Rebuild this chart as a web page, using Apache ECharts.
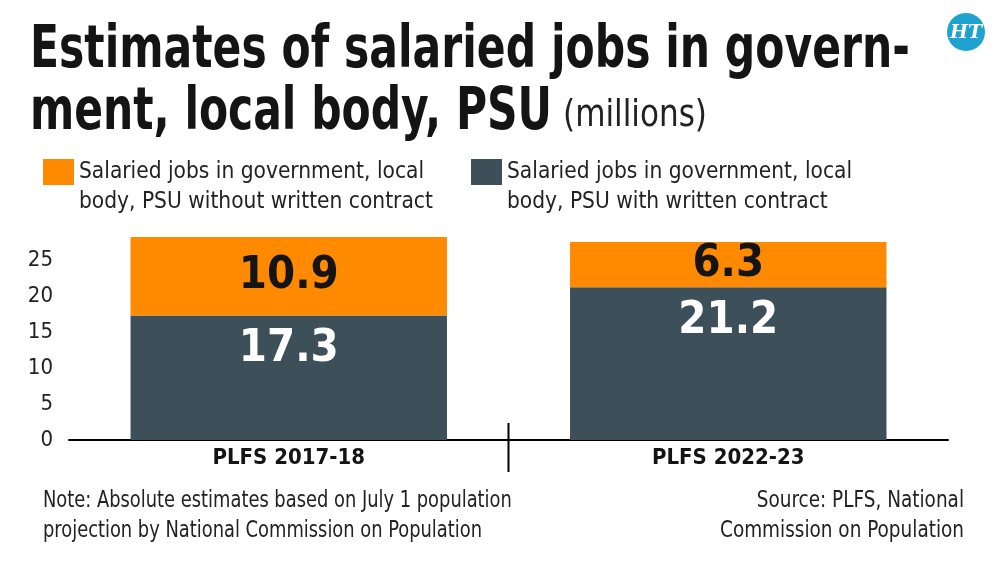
<!DOCTYPE html>
<html>
<head>
<meta charset="utf-8">
<script src="https://cdn.jsdelivr.net/npm/echarts@6/dist/echarts.min.js"></script>
<style>html,body{margin:0;padding:0;background:#fff;}#c{width:1000px;height:561px;}</style>
</head>
<body>
<div id="c"></div>
<script>
// ---- data ----
const categories = ['PLFS 2017-18', 'PLFS 2022-23'];
const withContract = [17.3, 21.2];
const withoutContract = [10.9, 6.3];
const seriesNames = [
  'Salaried jobs in government, local body, PSU without written contract',
  'Salaried jobs in government, local body, PSU with written contract'
];
const titleLine1 = 'Estimates of salaried jobs in govern-';
const titleLine2 = 'ment, local body, PSU';
const titleUnit = '(millions)';
const noteLines = ['Note: Absolute estimates based on July 1 population', 'projection by National Commission on Population'];
const sourceLines = ['Source: PLFS, National', 'Commission on Population'];

// ---- style ----
const FONT = '"DejaVu Sans Condensed", "Liberation Sans Narrow", "Liberation Sans", sans-serif';
const ORANGE = '#ff8a00';
const SLATE = '#3d4f59';
const INK = '#141414';

const cv = document.createElement('canvas').getContext('2d');
function measure(text, font) { cv.font = font; return cv.measureText(text).width; }
function fitScale(text, font, target) { return target / measure(text, font); }
// font size so that text, squeezed by scaleX, spans target width
function sizeFor(text, weight, target, sx) {
  const w = measure(text, weight + ' 100px ' + FONT);
  return 100 * target / (w * sx);
}

const tFont1 = 'bold 58px ' + FONT;
const tFontU = 'normal 38px ' + FONT;
const NSX = 0.86;
const nSize = sizeFor(noteLines[0], 'normal', 469, NSX);
const nFont = 'normal ' + nSize.toFixed(2) + 'px ' + FONT;
const sScale = fitScale(sourceLines[1], nFont, 244);

const chart = echarts.init(document.getElementById('c'), null, { renderer: 'canvas' });

function legendCfg(i, left) {
  return {
    left: left, top: 122,
    data: [seriesNames[i]],
    icon: 'rect', itemWidth: 31, itemHeight: 26,
    selectedMode: false,
    formatter: n => '\n' + n.replace(', local ', ', local\n'),
    textStyle: { fontFamily: FONT, fontSize: 22.5, lineHeight: 30, color: '#222' }
  };
}

const option = {
  backgroundColor: '#fff',
  animation: false,
  legend: [legendCfg(0, 38), legendCfg(1, 466)],
  grid: { left: 69, right: 52, top: 224, bottom: 121, containLabel: false },
  xAxis: {
    type: 'category', data: categories,
    axisLine: { lineStyle: { color: '#000', width: 2 } },
    axisTick: { show: false },
    axisLabel: { fontFamily: FONT, fontWeight: 'bold', fontSize: 22, color: INK, margin: 7 }
  },
  yAxis: {
    type: 'value', min: 0, max: 30, interval: 5,
    axisLine: { show: false }, axisTick: { show: false }, splitLine: { show: false },
    axisLabel: { fontFamily: FONT, fontSize: 22, color: '#222', margin: 16,
      formatter: v => (v >= 30 ? '' : String(v)) }
  },
  series: [
    {
      name: seriesNames[1], type: 'bar', stack: 'a', data: withContract, barWidth: '72%',
      itemStyle: { color: SLATE },
      label: { show: true, position: 'insideTop', distance: 11, color: '#fff',
        fontFamily: FONT, fontWeight: 'bold', fontSize: 45 }
    },
    {
      name: seriesNames[0], type: 'bar', stack: 'a', data: withoutContract, barWidth: '72%',
      itemStyle: { color: ORANGE },
      label: { show: true, position: 'inside', color: INK,
        fontFamily: FONT, fontWeight: 'bold', fontSize: 45 }
    }
  ],
  graphic: [
    { type: 'text', x: 30, y: 52, scaleX: fitScale(titleLine1, tFont1, 880),
      style: { text: titleLine1, font: tFont1, fill: INK, verticalAlign: 'middle' } },
    { type: 'text', x: 30, y: 114, scaleX: fitScale(titleLine2, tFont1, 522),
      style: { text: titleLine2, font: tFont1, fill: INK, verticalAlign: 'middle' } },
    { type: 'text', x: 563, y: 116, scaleX: fitScale(titleUnit, tFontU, 144),
      style: { text: titleUnit, font: tFontU, fill: '#222', verticalAlign: 'middle' } },
    { type: 'text', x: 43, y: 501, scaleX: NSX,
      style: { text: noteLines[0], font: nFont, fill: '#222', verticalAlign: 'middle' } },
    { type: 'text', x: 43, y: 531, scaleX: NSX,
      style: { text: noteLines[1], font: nFont, fill: '#222', verticalAlign: 'middle' } },
    { type: 'text', x: 964, y: 501, scaleX: sScale,
      style: { text: sourceLines[0], font: nFont, fill: '#222', align: 'right', verticalAlign: 'middle' } },
    { type: 'text', x: 964, y: 531, scaleX: sScale,
      style: { text: sourceLines[1], font: nFont, fill: '#222', align: 'right', verticalAlign: 'middle' } },
    { type: 'circle', shape: { cx: 966, cy: 32, r: 19 }, style: { fill: '#1fa2cf' } },
    { type: 'text', x: 966, y: 33,
      style: { text: 'HT', font: 'italic bold 19px "DejaVu Serif", serif', fill: '#fff', align: 'center', verticalAlign: 'middle' } }
  ]
};
chart.setOption(option);

// divider tick between categories, positioned from the axis scales
const p0 = chart.convertToPixel({ xAxisIndex: 0 }, categories[0]);
const p1 = chart.convertToPixel({ xAxisIndex: 0 }, categories[1]);
const y0 = chart.convertToPixel({ yAxisIndex: 0 }, 0);
const xm = (p0 + p1) / 2;
option.graphic.push({ type: 'line', shape: { x1: xm, y1: y0 - 17, x2: xm, y2: y0 + 32 },
  style: { stroke: '#000', lineWidth: 2 } });
chart.setOption({ graphic: option.graphic });
</script>
</body>
</html>
